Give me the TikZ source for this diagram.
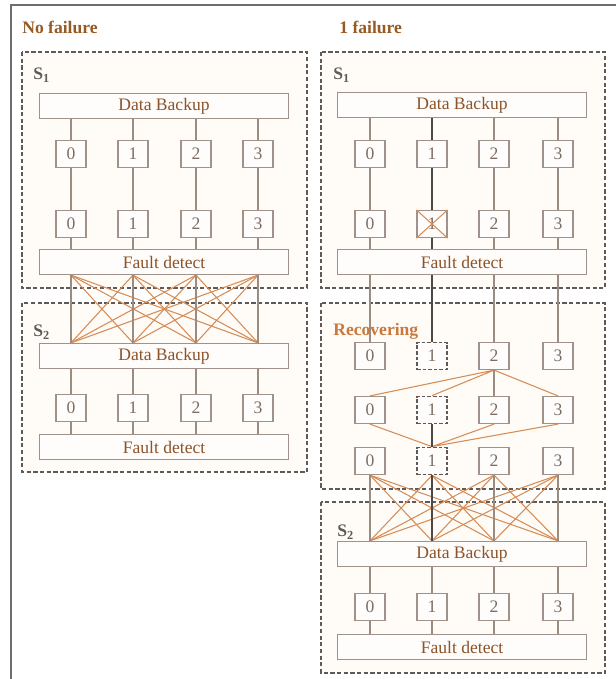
\documentclass[tikz,border=0pt]{standalone}
\usepackage{fontspec}
\setmainfont{Liberation Serif}
\usetikzlibrary{positioning,calc,backgrounds}
\definecolor{frameInk}{RGB}{110,110,110}
\definecolor{grpInk}{RGB}{95,90,88}
\definecolor{grpBg}{RGB}{255,251,247}
\definecolor{boxInk}{RGB}{160,146,138}
\definecolor{boxBg}{RGB}{255,253,251}
\definecolor{txtInk}{RGB}{140,82,40}
\definecolor{numInk}{RGB}{125,108,98}
\definecolor{wireInk}{RGB}{155,140,130}
\definecolor{xInk}{RGB}{214,140,85}
\definecolor{headInk}{RGB}{150,90,35}
\definecolor{recInk}{RGB}{200,122,62}

\begin{document}
\begin{tikzpicture}[x=0.2mm, y=-0.2mm, font=\normalsize,
  grp/.style ={draw=grpInk, line width=1.1pt, dash pattern=on 2.4pt off 1.4pt, fill=grpBg},
  bar/.style ={draw=boxInk, line width=.7pt, fill=boxBg, minimum width=49.8mm,
               minimum height=5mm, inner sep=0pt, text=txtInk},
  cell/.style={draw=boxInk, line width=.7pt, fill=boxBg, minimum width=6mm,
               minimum height=5.4mm, inner sep=0pt, text=numInk},
  lost/.style={cell, draw=grpInk, line width=1pt, dash pattern=on 2pt off 1.2pt},
  wire/.style={draw=wireInk, line width=.6pt},
  hot/.style ={draw=grpInk!80!black, line width=.7pt},
  cross/.style={draw=xInk, line width=.6pt},
  head/.style={font=\bfseries, text=headInk, anchor=west, inner sep=0pt},
  tag/.style ={anchor=west, text=grpInk, inner sep=0pt},
]
\useasboundingbox (0,0) rectangle (616,679);

% outer frame (left and top edges only)
\draw[frameInk, line width=1.2pt] (11,679) -- (11,5) -- (616,5);

% ============ GROUP BOXES ============
\draw[grp] (22,52)   rectangle (307,288);
\draw[grp] (22,303)  rectangle (307,472);
\draw[grp] (321,52)  rectangle (605,288);
\draw[grp] (321,303) rectangle (605,489);
\draw[grp] (321,502) rectangle (605,673);

\node[head] (nofail)  at (22,27)  {No failure};
\node[head] (onefail) at (339,27) {1 failure};

% ============ LEFT : no failure ============
\node[tag] (lS1) at (33,75)  {\textbf{S}\textsubscript{\textbf{1}}};
\node[bar] (ldb1) at (164,106) {Data Backup};
\node[bar] (lfd1) at (164,262) {Fault detect};
\node[tag] (lS2) at (33,332) {\textbf{S}\textsubscript{\textbf{2}}};
\node[bar] (ldb2) at (164,356) {Data Backup};
\node[bar] (lfd2) at (164,447) {Fault detect};

\foreach \i/\x in {0/71,1/133,2/196,3/258} {
  \node[cell] (la\i) at (\x,154) {\i};
  \node[cell] (lb\i) at (\x,224) {\i};
  \node[cell] (lc\i) at (\x,408) {\i};
}

\foreach \i in {0,...,3} {
  \foreach \j in {0,...,3}
    \draw[cross] (lb\i |- lfd1.south) -- (lb\j |- ldb2.north);
}
\foreach \i in {0,...,3} {
  \draw[wire] (la\i |- ldb1.south) -- (la\i.north) (la\i) -- (lb\i)
              (lb\i.south) -- (lb\i |- lfd1.north);
  \draw[wire] (lb\i |- lfd1.south) -- (lb\i |- ldb2.north);
  \draw[wire] (lc\i |- ldb2.south) -- (lc\i.north)
              (lc\i.south) -- (lc\i |- lfd2.north);
}

% ============ RIGHT : 1 failure ============
\node[tag] (rS1) at (333,75) {\textbf{S}\textsubscript{\textbf{1}}};
\node[bar] (rdb1) at (462,105) {Data Backup};
\node[bar] (rfd1) at (462,262) {Fault detect};

\node[head, text=recInk] (recov) at (333,331) {Recovering};

\node[tag] (rS2) at (337,532) {\textbf{S}\textsubscript{\textbf{2}}};
\node[bar] (rdb2) at (462,554) {Data Backup};
\node[bar] (rfd2) at (462,647) {Fault detect};

\foreach \i/\x in {0/370,1/432,2/494,3/558} {
  \node[cell] (ra\i) at (\x,154) {\i};
  \node[cell] (rb\i) at (\x,224) {\i};
  \node[cell] (rc\i) at (\x,607) {\i};
}
\foreach \i/\x in {0/370,2/494,3/558} {
  \node[cell] (rp\i) at (\x,356) {\i};
  \node[cell] (rq\i) at (\x,410) {\i};
  \node[cell] (rr\i) at (\x,461) {\i};
}
\node[lost] (rp1) at (432,356) {1};
\node[lost] (rq1) at (432,410) {1};
\node[lost] (rr1) at (432,461) {1};

% failed replica
\draw[cross] (rb1.north west) -- (rb1.south east) (rb1.north east) -- (rb1.south west);

% S1 columns and links down to the recovering stage
\foreach \i in {0,2,3} {
  \draw[wire] (ra\i |- rdb1.south) -- (ra\i.north) (ra\i) -- (rb\i)
              (rb\i.south) -- (rb\i |- rfd1.north);
  \draw[wire] (rb\i |- rfd1.south) -- (rp\i.north);
}
\draw[hot] (ra1 |- rdb1.south) -- (ra1.north) (ra1) -- (rb1)
           (rb1.south) -- (rb1 |- rfd1.north);
\draw[hot] (rb1 |- rfd1.south) -- (rp1.north);

% recovering: rebuild replica 1
\draw[cross] (rp2.south) -- (rq0.north) (rp2.south) -- (rq1.north)
             (rp2.south) -- (rq3.north);
\draw[wire] (rp2) -- (rq2);
\draw[cross] (rr1.north) -- (rq0.south) (rr1.north) -- (rq2.south)
             (rr1.north) -- (rq3.south);
\draw[hot] (rq1) -- (rr1);

% all-to-all into S2
\foreach \i in {0,...,3} {
  \foreach \j in {0,...,3}
    \draw[cross] (rr\i.south) -- (rr\j |- rdb2.north);
}
\foreach \i in {0,2,3}
  \draw[wire] (rr\i.south) -- (rr\i |- rdb2.north);
\draw[hot] (rr1.south) -- (rr1 |- rdb2.north);

\foreach \i in {0,...,3}
  \draw[wire] (rc\i |- rdb2.south) -- (rc\i.north)
              (rc\i.south) -- (rc\i |- rfd2.north);

\end{tikzpicture}
\end{document}
